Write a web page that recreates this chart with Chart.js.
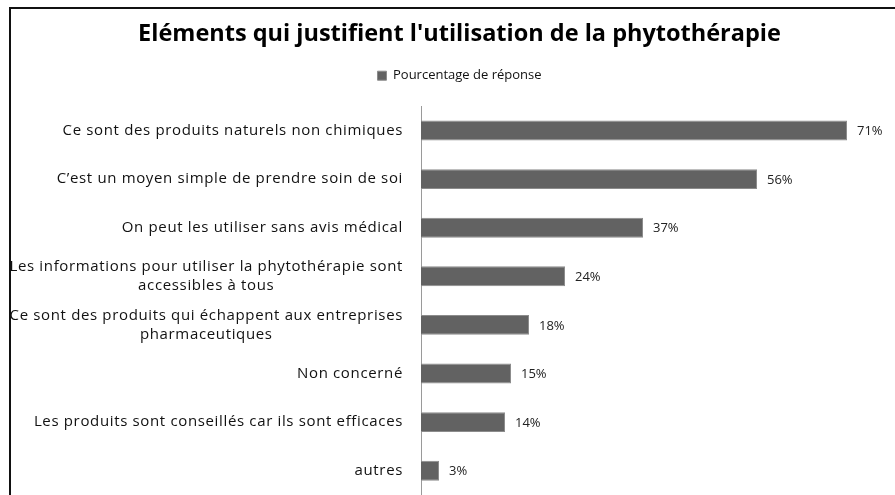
<!DOCTYPE html>
<html lang="fr">
<head>
<meta charset="utf-8">
<title>Eléments qui justifient l'utilisation de la phytothérapie</title>
<script src="https://cdn.jsdelivr.net/npm/chart.js@4.4.0/dist/chart.umd.min.js"></script>
<style>
    html, body { margin: 0; padding: 0; background: #fff; }
    #wrap { position: relative; width: 895px; height: 495px; overflow: hidden; }
    #cadre {
        position: absolute; left: 9px; top: 7px; right: -10px; bottom: -10px;
        border-left: 2px solid #111; border-top: 2px solid #111;
        pointer-events: none;
    }
</style>
</head>
<body>
<div id="wrap">
    <canvas id="phytoChart" width="895" height="495"></canvas>
    <div id="cadre"></div>
</div>
<script>
// Données de l'enquête
const categories = [
    ['Ce sont des produits naturels non chimiques'],
    ['C\u2019est un moyen simple de prendre soin de soi'],
    ['On peut les utiliser sans avis médical'],
    ['Les informations pour utiliser la phytothérapie sont', 'accessibles à tous'],
    ['Ce sont des produits qui échappent aux entreprises', 'pharmaceutiques'],
    ['Non concerné'],
    ['Les produits sont conseillés car ils sont efficaces'],
    ['autres']
];
const valeurs = [71, 56, 37, 24, 18, 15, 14, 3];
const xMax = 79;

const police = '"Open Sans", sans-serif';
const margeGauche = 24;

// Libellés des catégories : bloc aligné à droite, lignes centrées entre elles
const etiquettesCategories = {
    id: 'etiquettesCategories',
    afterDraw(chart) {
        const ctx = chart.ctx;
        const y = chart.scales.y;
        const droite = chart.chartArea.left - 18;
        ctx.save();
        ctx.font = '15px ' + police;
        ctx.letterSpacing = '0.65px';
        ctx.fillStyle = '#111';
        ctx.textBaseline = 'middle';
        ctx.textAlign = 'center';
        categories.forEach((lignes, i) => {
            const yc = y.getPixelForTick(i);
            const largeur = Math.max(...lignes.map(l => ctx.measureText(l).width));
            const xc = droite - largeur / 2;
            lignes.forEach((l, j) => {
                ctx.fillText(l, xc, yc + (j - (lignes.length - 1) / 2) * 19);
            });
        });
        ctx.restore();
    }
};

// Pourcentages au bout des barres
const etiquettesValeurs = {
    id: 'etiquettesValeurs',
    afterDatasetsDraw(chart) {
        const ctx = chart.ctx;
        const meta = chart.getDatasetMeta(0);
        ctx.save();
        ctx.font = '13px ' + police;
        ctx.fillStyle = '#222';
        ctx.textBaseline = 'middle';
        ctx.textAlign = 'left';
        meta.data.forEach((barre, i) => {
            ctx.fillText(valeurs[i] + '%', barre.x + 10, barre.y + 1);
        });
        ctx.restore();
    }
};

// Espace supplémentaire sous la légende
const espaceLegende = {
    id: 'espaceLegende',
    beforeInit(chart) {
        const fitOrig = chart.legend.fit;
        chart.legend.fit = function () {
            fitOrig.bind(chart.legend)();
            this.height += 14;
        };
    }
};

const ctx = document.getElementById('phytoChart').getContext('2d');
new Chart(ctx, {
    type: 'bar',
    data: {
        labels: categories.map(l => l.join(' ')),
        datasets: [{
            label: 'Pourcentage de réponse',
            data: valeurs,
            backgroundColor: '#626262',
            borderColor: '#8c8c8c',
            borderWidth: 1,
            barPercentage: 0.41,
            categoryPercentage: 1
        }]
    },
    options: {
        indexAxis: 'y',
        responsive: false,
        animation: false,
        layout: { padding: { left: margeGauche, right: 0, top: 0, bottom: 0 } },
        scales: {
            x: { display: false, min: 0, max: xMax },
            y: {
                grid: { display: false },
                border: { color: '#9a9a9a', width: 1 },
                ticks: { display: false },
                afterFit(scale) { scale.width = 421 - margeGauche; }
            }
        },
        plugins: {
            title: {
                display: true,
                text: "Eléments qui justifient l'utilisation de la phytothérapie",
                color: '#000',
                font: { family: police, size: 23.5, weight: 'bold' },
                padding: { top: 20, bottom: 11 }
            },
            legend: {
                labels: {
                    color: '#111',
                    boxWidth: 9,
                    boxHeight: 9,
                    font: { family: police, size: 13 }
                }
            },
            tooltip: { enabled: false }
        }
    },
    plugins: [espaceLegende, etiquettesCategories, etiquettesValeurs]
});
</script>
</body>
</html>
